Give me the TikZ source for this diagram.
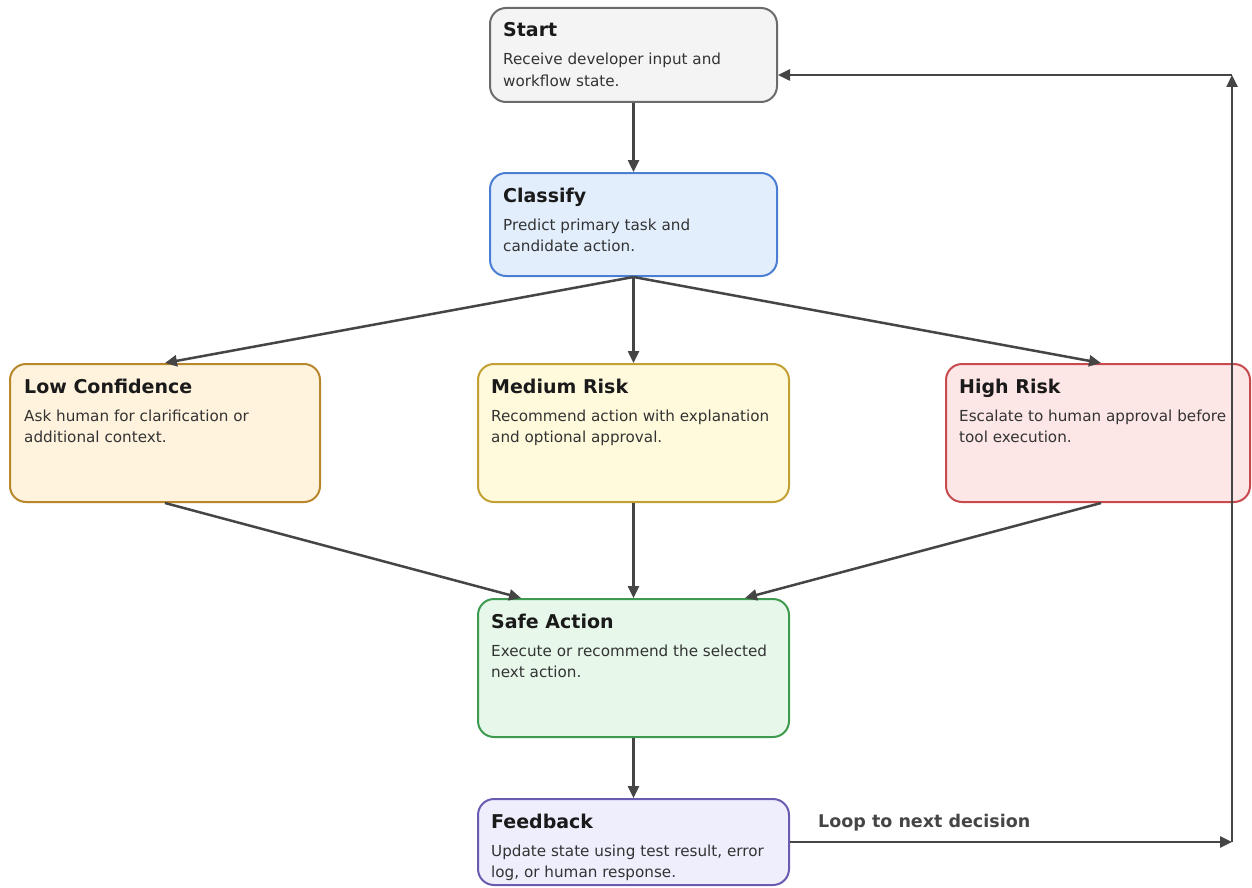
\documentclass[tikz,border=0pt]{standalone}
\usepackage{fontspec}
\setmainfont{DejaVu Sans}
\usetikzlibrary{arrows.meta}
\definecolor{edgec}{HTML}{454545}
\definecolor{titlec}{HTML}{1A1A1A}
\definecolor{bodyc}{HTML}{333333}
\definecolor{startF}{HTML}{F4F4F4}\definecolor{startD}{HTML}{6B6B6B}
\definecolor{clsF}{HTML}{E3EEFD}\definecolor{clsD}{HTML}{4A7FD4}
\definecolor{lowF}{HTML}{FFF3DD}\definecolor{lowD}{HTML}{B8862B}
\definecolor{medF}{HTML}{FFFADC}\definecolor{medD}{HTML}{C2A033}
\definecolor{highF}{HTML}{FDE6E6}\definecolor{highD}{HTML}{C64A4E}
\definecolor{safeF}{HTML}{E7F8EB}\definecolor{safeD}{HTML}{3E9A4F}
\definecolor{fbF}{HTML}{EEEEFD}\definecolor{fbD}{HTML}{6B5BB0}
\tikzset{
  box/.style={draw, line width=2pt, rounded corners=16pt, inner sep=0pt},
  ttl/.style={anchor=base west, inner sep=0pt, text=titlec, font=\fontsize{19}{23}\selectfont\bfseries},
  bdy/.style={anchor=base west, inner sep=0pt, text=bodyc, font=\fontsize{15.2}{21.5}\selectfont},
  conn/.style={draw=edgec, line width=2.5pt, -{Triangle[length=12pt,width=11pt]}},
  lbl/.style={inner sep=0pt, text=edgec, font=\fontsize{17.5}{21}\selectfont\bfseries}
}
\newcommand{\bodytext}[1]{\parbox[t]{320pt}{\raggedright #1}}
\begin{document}
\begin{tikzpicture}[x=1pt,y=-1pt]
\useasboundingbox (0,0) rectangle (1252,888);
% boxes
\node[box, fill=startF, draw=startD, minimum width=287pt, minimum height=94pt] (start) at (633.5,55) {};
\node[box, fill=clsF, draw=clsD, minimum width=287pt, minimum height=103pt] (cls) at (633.5,224.5) {};
\node[box, fill=lowF, draw=lowD, minimum width=310pt, minimum height=138pt] (low) at (165,433) {};
\node[box, fill=medF, draw=medD, minimum width=311pt, minimum height=138pt] (med) at (633.5,433) {};
\node[box, fill=highF, draw=highD, minimum width=304pt, minimum height=138pt] (high) at (1098,433) {};
\node[box, fill=safeF, draw=safeD, minimum width=311pt, minimum height=138pt] (safe) at (633.5,668) {};
\node[box, fill=fbF, draw=fbD, minimum width=311pt, minimum height=86pt] (fb) at (633.5,842) {};
% texts
\node[ttl] (startT) at (503,37) {Start};
\node[bdy] (startB) at (503,65) {\bodytext{Receive developer input and\\workflow state.}};
\node[ttl] (clsT) at (503,202) {Classify};
\node[bdy] (clsB) at (503,230) {\bodytext{Predict primary task and\\candidate action.}};
\node[ttl] (lowT) at (24,393) {Low Confidence};
\node[bdy] (lowB) at (24,421) {\bodytext{Ask human for clarification or\\additional context.}};
\node[ttl] (medT) at (491,393) {Medium Risk};
\node[bdy] (medB) at (491,421) {\bodytext{Recommend action with explanation\\and optional approval.}};
\node[ttl] (highT) at (959,393) {High Risk};
\node[bdy] (highB) at (959,421) {\bodytext{Escalate to human approval before\\tool execution.}};
\node[ttl] (safeT) at (491,628) {Safe Action};
\node[bdy] (safeB) at (491,656) {\bodytext{Execute or recommend the selected\\next action.}};
\node[ttl] (fbT) at (491,828) {Feedback};
\node[bdy] (fbB) at (491,856) {\bodytext{Update state using test result, error\\log, or human response.}};
\node[lbl, anchor=west] (loopL) at (818,823) {Loop to next decision};
% connectors
\coordinate (corner1) at (1232,842);
\coordinate (corner2) at (1232,75);
\draw[conn] (start.south) -- (cls.north);
\draw[conn] (cls.south) -- (low.north);
\draw[conn] (cls.south) -- (med.north);
\draw[conn] (cls.south) -- (high.north -| 1101,0);
\draw[conn] (low.south) -- (safe.north -| 521,0);
\draw[conn] (med.south) -- (safe.north);
\draw[conn] (high.south -| 1101,0) -- (safe.north -| 745,0);
\draw[conn] (safe.south) -- (fb.north);
\draw[conn] (fb.east) -- (corner1);
\draw[conn] (corner1) -- (corner2);
\draw[conn] (corner2) -- (start.east |- corner2);
\end{tikzpicture}
\end{document}
